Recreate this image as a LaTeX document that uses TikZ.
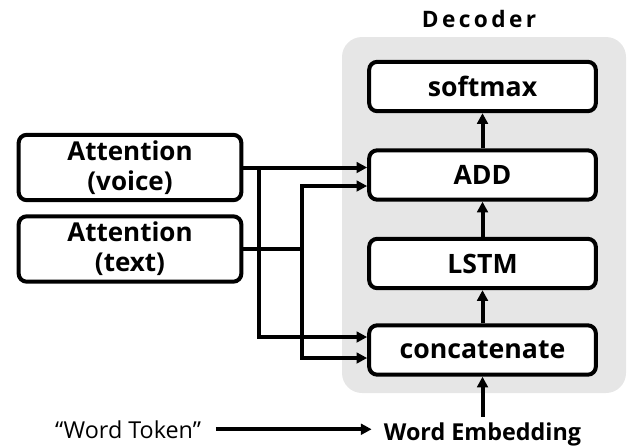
\documentclass[tikz,border=0pt]{standalone}
\usepackage{fontspec}
\setmainfont{Open Sans}
\usepackage{tikz}
\usetikzlibrary{arrows.meta, positioning, calc}
\definecolor{panelgray}{RGB}{230, 230, 230}
\tikzset{
  layerbox/.style={draw, line width=3pt, rounded corners=6pt, fill=white, minimum width=170pt, minimum height=37pt, font=\fontsize{20}{22}\selectfont\bfseries, inner sep=0pt},
  attnbox/.style={draw, line width=3pt, rounded corners=6pt, fill=white, minimum width=167pt, minimum height=49pt, align=center, font=\fontsize{19.5}{22.5}\selectfont\bfseries, inner sep=0pt},
  link/.style={line width=3pt, -{Triangle[length=8pt, width=8pt]}},
  plain/.style={line width=3pt}
}

\begin{document}
\begin{tikzpicture}[x=0.75pt, y=-0.75pt]
  \useasboundingbox (0,0) rectangle (641,447);
  \fill[panelgray, rounded corners=15pt] (342,37) rectangle (626,393);
  \node[anchor=base, font=\fontsize{17}{19}\selectfont\bfseries\addfontfeatures{LetterSpace=15}] (dectitle) at (479,27) {Decoder};

  \node[layerbox] (softmax) at (482.5,86.5) {softmax};
  \node[layerbox] (add) at (482.5,175) {ADD};
  \node[layerbox] (lstm) at (482.5,263.5) {LSTM};
  \node[layerbox] (concat) at (482.5,350) {concatenate};

  \node[attnbox] (voice) at (130,167.5) {Attention\\(voice)};
  \node[attnbox] (text) at (130,249) {Attention\\(text)};

  \node[anchor=base, font=\fontsize{17.5}{19}\selectfont\bfseries, inner sep=1pt] (embed) at (482.5,440) {Word Embedding};
  \node[anchor=base, font=\fontsize{17.5}{19}\selectfont, inner sep=1pt] (token) at (128,438) {“Word Token”};

  \coordinate (vsplit) at (259,167.5);
  \coordinate (tsplit) at (302,249);

  \draw[link] (voice.east) -- (voice.east -| add.west);
  \draw[link] (vsplit) |- ($(concat.west)+(0,-13)$);
  \draw[plain] (text.east) -- (tsplit);
  \draw[link] (tsplit) |- ($(add.west)+(0,11)$);
  \draw[link] (tsplit) |- ($(concat.west)+(0,8)$);

  \draw[link] (concat) -- (lstm);
  \draw[link] (lstm) -- (add);
  \draw[link] (add) -- (softmax);
  \draw[link, shorten <=3pt] (embed.north) -- (concat.south);
  \draw[link, shorten <=10pt, shorten >=8pt] (token.east) -- (token.east -| embed.west);
\end{tikzpicture}
\end{document}
